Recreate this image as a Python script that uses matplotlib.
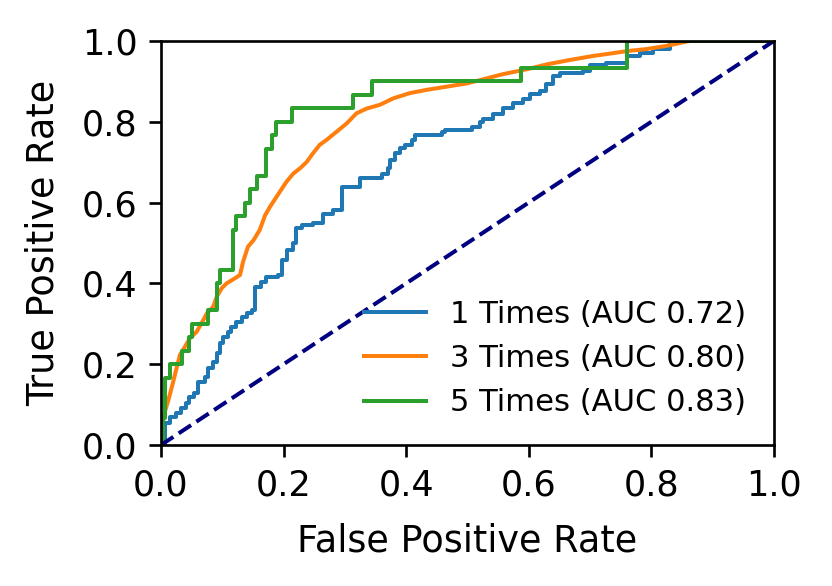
import matplotlib
matplotlib.use('Agg')
import matplotlib.pyplot as plt

# 1 Times
fpr1 = [0, 0.0065, 0.0147, 0.024, 0.032, 0.040, 0.046, 0.054, 0.061, 0.072, 0.077, 0.085,
        0.091, 0.096, 0.102, 0.110, 0.115, 0.123, 0.132, 0.140, 0.148, 0.153, 0.164, 0.172,
        0.191, 0.197, 0.205, 0.216, 0.221, 0.230, 0.248, 0.265, 0.281, 0.295, 0.325, 0.354,
        0.360, 0.371, 0.374, 0.382, 0.390, 0.398, 0.409, 0.414, 0.458, 0.463, 0.501, 0.507,
        0.520, 0.526, 0.542, 0.558, 0.575, 0.591, 0.602, 0.618, 0.629, 0.640, 0.651, 0.689,
        0.700, 0.727, 0.760, 0.781, 0.803, 0.830, 0.841, 1.0]
tpr1 = [0, 0.054, 0.070, 0.078, 0.091, 0.103, 0.120, 0.128, 0.157, 0.169, 0.190, 0.206,
        0.227, 0.252, 0.268, 0.280, 0.293, 0.305, 0.318, 0.326, 0.334, 0.392, 0.404, 0.417,
        0.421, 0.458, 0.483, 0.499, 0.536, 0.545, 0.549, 0.573, 0.582, 0.639, 0.660, 0.660,
        0.672, 0.685, 0.705, 0.722, 0.734, 0.743, 0.755, 0.767, 0.776, 0.780, 0.780, 0.788,
        0.800, 0.806, 0.819, 0.835, 0.847, 0.856, 0.868, 0.876, 0.893, 0.913, 0.922, 0.926,
        0.940, 0.946, 0.963, 0.971, 0.981, 0.994, 1.0, 1.0]

# 3 Times
fpr3 = [0, 0.004, 0.012, 0.020, 0.026, 0.031, 0.039, 0.047, 0.058, 0.066, 0.075, 0.085,
        0.091, 0.099, 0.107, 0.121, 0.129, 0.134, 0.142, 0.151, 0.161, 0.170, 0.178, 0.194,
        0.205, 0.216, 0.227, 0.238, 0.248, 0.259, 0.270, 0.287, 0.303, 0.319, 0.336, 0.357,
        0.379, 0.406, 0.433, 0.466, 0.499, 0.520, 0.558, 0.597, 0.629, 0.667, 0.705, 0.738,
        0.760, 0.792, 0.825, 0.862, 1.0]
tpr3 = [0, 0.070, 0.111, 0.157, 0.194, 0.223, 0.243, 0.264, 0.280, 0.301, 0.326, 0.342,
        0.367, 0.388, 0.400, 0.413, 0.421, 0.454, 0.491, 0.507, 0.532, 0.569, 0.590, 0.627,
        0.652, 0.672, 0.685, 0.701, 0.722, 0.743, 0.755, 0.776, 0.796, 0.821, 0.833, 0.842,
        0.858, 0.871, 0.879, 0.887, 0.895, 0.903, 0.918, 0.930, 0.942, 0.953, 0.963, 0.970,
        0.975, 0.980, 0.988, 1.0, 1.0]

# 5 Times
fpr5 = [0, 0.003, 0.006, 0.015, 0.034, 0.045, 0.051, 0.077, 0.091, 0.097, 0.118, 0.122,
        0.137, 0.145, 0.157, 0.171, 0.181, 0.187, 0.213, 0.313, 0.345, 0.588, 0.761, 1.0]
tpr5 = [0, 0.067, 0.167, 0.2, 0.233, 0.267, 0.3, 0.333, 0.4, 0.433, 0.533, 0.567,
        0.6, 0.633, 0.667, 0.733, 0.767, 0.8, 0.833, 0.867, 0.9, 0.933, 1.0, 1.0]

labels = ['1 Times (AUC 0.72)', '3 Times (AUC 0.80)', '5 Times (AUC 0.83)']

fig, ax = plt.subplots(figsize=(832 / 240, 586 / 240), dpi=240)
fig.subplots_adjust(left=0.1935, right=0.930, top=0.930, bottom=0.2406)

ax.step(fpr1, tpr1, where='post', color='tab:blue', lw=1.2, label=labels[0])
ax.plot(fpr3, tpr3, color='tab:orange', lw=1.2, label=labels[1])
ax.step(fpr5, tpr5, where='post', color='tab:green', lw=1.2, label=labels[2])
ax.plot([0, 1], [0, 1], color='navy', lw=1.2, linestyle='--')

ax.set_xlim(0.0, 1.0)
ax.set_ylim(0.0, 1.0)
ax.set_xlabel('False Positive Rate', fontsize=11, labelpad=6)
ax.set_ylabel('True Positive Rate', fontsize=11, labelpad=6)
ax.tick_params(labelsize=10.5)
ax.legend(loc='lower right', frameon=False, fontsize=9.2)

fig.savefig('out.png', dpi=240)
